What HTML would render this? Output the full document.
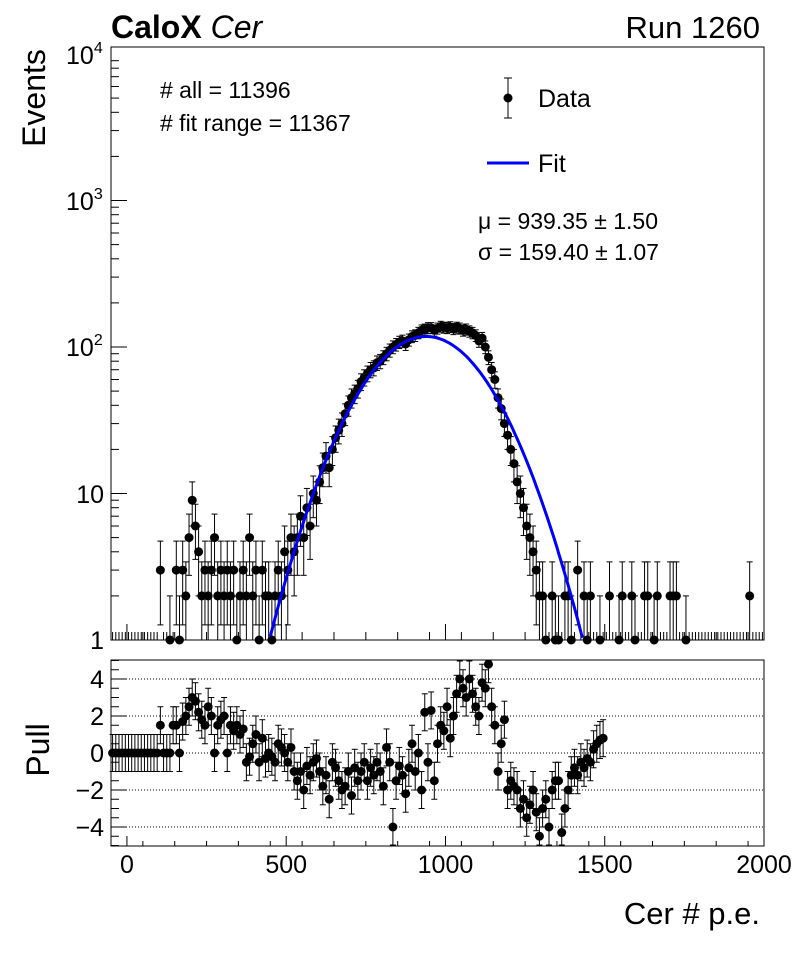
<!DOCTYPE html>
<html><head><meta charset="utf-8"><style>
body{margin:0;background:#fff;}
svg{display:block;font-family:"Liberation Sans",sans-serif;}
</style></head><body>
<svg id="c" width="796" height="972" xmlns="http://www.w3.org/2000/svg">
<rect width="796" height="972" fill="#fff"/>
<text x="111" y="38" font-size="32" font-weight="bold">CaloX <tspan font-weight="normal" font-style="italic">Cer</tspan></text>
<text x="760" y="38" font-size="31" text-anchor="end">Run 1260</text>
<text transform="translate(45,98) rotate(-90)" font-size="32" text-anchor="middle">Events</text>
<text transform="translate(49,750) rotate(-90)" font-size="32" text-anchor="middle">Pull</text>
<text x="760" y="924" font-size="31" text-anchor="end">Cer # p.e.</text>
<text x="160" y="98" font-size="23"># all = 11396</text>
<text x="160" y="131" font-size="23"># fit range = 11367</text>
<g>
<line x1="508" y1="78" x2="508" y2="118" stroke="#000"/>
<line x1="504" y1="78" x2="512" y2="78" stroke="#000"/><line x1="504" y1="118" x2="512" y2="118" stroke="#000"/>
<circle cx="508" cy="98" r="4.5" fill="#000"/>
<text x="538" y="107" font-size="25">Data</text>
<line x1="487" y1="163" x2="529" y2="163" stroke="#0000ff" stroke-width="3"/>
<text x="538" y="172" font-size="25">Fit</text>
</g>
<text x="478" y="229" font-size="23">μ = 939.35 ± 1.50</text>
<text x="478" y="260" font-size="23">σ = 159.40 ± 1.07</text>
<g id="main"></g><g id="pull"></g>
<rect x="111" y="47" width="653" height="593" fill="none" stroke="#000"/>
<rect x="111" y="660" width="653" height="186" fill="none" stroke="#000"/>
</svg>
<script>
const counts=[0,0,0,0,0,0,0,0,0,0,0,0,0,0,0,
3,0,0,1,0,
3,1,3,2,5,9,6,4,2,3,
2,3,5,2,3,2,3,2,3,1,2,3,2,5,2,3,1,3,2,2,
1,2,3,2,4,3,5,4,5,7,5,8,6,10,9,
12,15,18,15,20,24,27,30,35,40,45,48,52,58,62,
66,70,72,78,80,85,90,95,100,104,108,110,105,112,118,
120,125,130,132,135,135,130,134,138,136,135,137,133,136,134,
130,132,128,125,120,110,115,100,85,70,60,45,38,30,25,
20,16,12,10,8,6,5,4,3,2,2,1,0,2,1,
1,0,2,2,1,0,3,0,2,1,2,0,0,1,0,
0,2,0,0,1,2,0,0,2,1,0,0,2,2,0,
1,2,0,0,0,2,2,2,0,0,1,0,0,0,0,
0,0,0,0,0,0,0,0,0,0,0,0,0,0,0,2,0,0,0,0];
const pulls=[0,0,0,0,0,0,0,0,0,0,0,0,0,0,0,1.5,0,0,0,1.5,
1.5,0,1.7,2,2.5,3,2.8,2.2,1.8,1.5,
2.5,2,0,1.5,1.8,2,0,1.5,1.2,1.5,1,1.3,-0.5,-0.2,0.5,1,-0.5,0.8,-0.3,0,
-0.2,-0.5,0.5,0.3,0,-0.5,0.3,-1,-1.5,-1,-2,-0.7,-1.2,-0.5,-0.3,
-1,-1.8,-1.2,-2.5,-0.5,-0.8,-1.5,-2,-1.8,-1,-2.3,-0.8,-1.5,-1,-0.5,
-1.5,-0.8,-1.2,-0.5,-1,-1.8,0.3,-0.5,-4,-1.5,-0.7,-1.2,-2.2,-0.8,0.5,
-1,0,-2,2.2,-0.5,2.3,-1.5,0.5,1.5,1.2,2.5,0.8,2,3.2,4,
3.5,3,4,3.2,2.5,2,3.8,3.5,4.8,2.5,1.5,-1,0.5,1.8,-2,
-1.5,-1.8,-2,-3,-2.5,-3.5,-2.8,-2,-3.2,-4.5,-3,-2.5,-4,-2,-1.5,
-1.5,-4.3,-3,-2,-1.2,-0.8,-1.2,-0.5,-0.8,-0.3,-0.5,0.2,0.5,0.7,0.8];
const fitParams=[118,939.35,159.4];
const xTicks=[0,500,1000,1500,2000];
const pullTicks=[4,2,0,-2,-4];
const binStart=-50, binWidth=10;
const NS='http://www.w3.org/2000/svg';
const X=v=>111+(v+50)*653/2050;
const Y=v=>640-Math.log10(Math.max(v,1))*146.5;
const P=v=>753-v*18.5;
function el(t,a,p){const e=document.createElementNS(NS,t);for(const k in a)e.setAttribute(k,a[k]);p.appendChild(e);return e;}
const m=document.getElementById('main'),pg=document.getElementById('pull'),svg=document.getElementById('c');
xTicks.forEach(t=>{
 const x=X(t);
 el('line',{x1:x,y1:640,x2:x,y2:624,stroke:'#000'},m);
 el('line',{x1:x,y1:846,x2:x,y2:836,stroke:'#000'},m);
 const tx=el('text',{x:x,y:873,'font-size':25,'text-anchor':'middle'},svg);tx.textContent=t;
 
 
});
for(let t=-50;t<=2000;t+=100){const x=X(t);el('line',{x1:x,y1:640,x2:x,y2:632,stroke:'#000'},m);el('line',{x1:x,y1:846,x2:x,y2:841,stroke:'#000'},m);}
for(let d=0;d<4;d++)for(let k=1;k<10;k++){const y=640-(d+Math.log10(k))*146.5;el('line',{x1:111,y1:y,x2:k==1?127:119,y2:y,stroke:'#000'},m);}
[['1',640],['10',494]].forEach(([s,y])=>{const t=el('text',{x:104,y:y+9,'font-size':25,'text-anchor':'end'},svg);t.textContent=s;
 });
[['2',347],['3',201],['4',55]].forEach(([s,y])=>{const t=el('text',{x:66,y:y+9,'font-size':25},svg);t.innerHTML='10<tspan dy="-11" font-size="16">'+s+'</tspan>';
 });
pullTicks.forEach(v=>{const y=P(v);
 el('line',{x1:111,y1:y,x2:764,y2:y,stroke:'#000','stroke-dasharray':'1,2'},pg);
 el('line',{x1:111,y1:y,x2:127,y2:y,stroke:'#000'},pg);
 const t=el('text',{x:104,y:y+9,'font-size':25,'text-anchor':'end'},svg);t.textContent=v<0?'−'+(-v):v;
 });
for(let v=-5;v<=5;v+=0.5){el('line',{x1:111,y1:P(v),x2:119,y2:P(v),stroke:'#000'},pg);}
counts.forEach((n,i)=>{
 const c=binStart+binWidth*(i+0.5),x=X(c);
 const g=el('g',{},m);
 
 
 if(n===0){el('line',{x1:x,y1:640,x2:x,y2:632,stroke:'#000'},g);return;}
 const e=Math.sqrt(n),yh=Y(n+e),yl=n-e>1?Y(n-e):640;
 el('line',{x1:x,y1:yh,x2:x,y2:yl,stroke:'#000'},g);
 el('line',{x1:x-3,y1:yh,x2:x+3,y2:yh,stroke:'#000'},g);
 if(n-e>1)el('line',{x1:x-3,y1:yl,x2:x+3,y2:yl,stroke:'#000'},g);
 el('circle',{cx:x,cy:Y(n),r:4.5,fill:'#000'},g);
});
let d='';const [A,mu,sg]=fitParams;
for(let v=440;v<=1440;v+=5){const f=A*Math.exp(-0.5*((v-mu)/sg)**2);if(f<1)continue;d+=(d?'L':'M')+X(v).toFixed(1)+','+Y(f).toFixed(1);}
const fl=el('path',{d:d,fill:'none',stroke:'#0000ff','stroke-width':3},m);


pulls.forEach((p,i)=>{
 const c=binStart+binWidth*(i+0.5),x=X(c);
 const g=el('g',{},pg);
 
 
 const yh=Math.max(P(p+1),661),yl=Math.min(P(p-1),845);
 el('line',{x1:x,y1:yh,x2:x,y2:yl,stroke:'#000'},g);
 el('line',{x1:x-3,y1:yh,x2:x+3,y2:yh,stroke:'#000'},g);
 el('line',{x1:x-3,y1:yl,x2:x+3,y2:yl,stroke:'#000'},g);
 el('circle',{cx:x,cy:P(p),r:4.5,fill:'#000'},g);
});
</script>
</body></html>
